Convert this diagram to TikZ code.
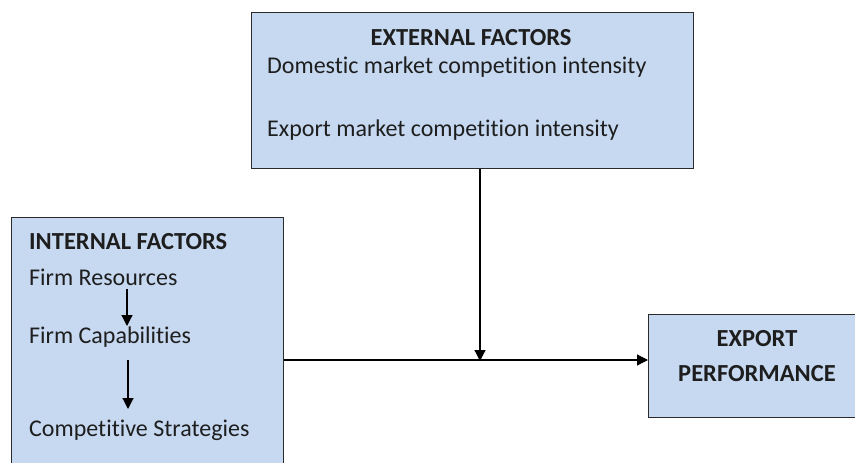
\documentclass[tikz,border=0pt]{standalone}
\usepackage{fontspec}
\setmainfont{Carlito}[Ligatures={NoCommon}]
\usetikzlibrary{arrows.meta}
\definecolor{boxfill}{HTML}{C6D9F1}
\definecolor{boxline}{HTML}{2B2B2B}
\definecolor{txt}{HTML}{1E1E1E}
\tikzset{
  box/.style={draw=boxline, line width=1.4pt, fill=boxfill, anchor=north west, inner sep=0pt},
  lbl/.style={text=txt, inner sep=0pt, font=\fontsize{24}{28}\selectfont},
  blbl/.style={lbl, font=\fontsize{24.5}{28}\selectfont\bfseries},
  arr/.style={draw=black, line width=1.2pt, -{Triangle[length=11pt,width=11pt]}},
}
\begin{document}
\begin{tikzpicture}[x=1pt,y=-1pt]
\useasboundingbox (0,0) rectangle (855,463);
\fill[white] (0,0) rectangle (855,463);
\clip (0,0) rectangle (855,463);
% boxes
\node[box, minimum width=442pt, minimum height=156pt] (ext) at (251,12) {};
\node[box, minimum width=272pt, minimum height=270pt] (int) at (11,217) {};
\node[box, minimum width=260pt, minimum height=103pt] (exp) at (648,314) {};
% external texts
\node[blbl] (exttitle) at (471,38) {EXTERNAL FACTORS};
\node[lbl, anchor=west] (dom) at (267,67) {Domestic market competition intensity};
\node[lbl, anchor=west] (expm) at (267,130) {Export market competition intensity};
% internal texts
\node[blbl, anchor=west] (inttitle) at (29,242) {INTERNAL FACTORS};
\node[lbl, anchor=west] (fr) at (29,277) {Firm Resources};
\node[lbl, anchor=west] (fc) at (29,337) {Firm Capabilities};
\node[lbl, anchor=west] (cs) at (29,430) {Competitive Strategies};
% export texts
\node[blbl] (ex1) at (757,339) {EXPORT};
\node[blbl] (ex2) at (757,374) {PERFORMANCE};
% internal arrows
\coordinate (a1) at (127,289);
\coordinate (a2) at (127,326);
\coordinate (a3) at (128,360);
\coordinate (a4) at (128,409);
\draw[arr] (a1) -- (a2);
\draw[arr] (a3) -- (a4);
% main connectors
\coordinate (j) at (480,360);
\draw[arr] (int.east |- j) -- (exp.west |- j);
\draw[arr] (ext.south -| j) -- ([yshift=-1pt]j);
\end{tikzpicture}
\end{document}
